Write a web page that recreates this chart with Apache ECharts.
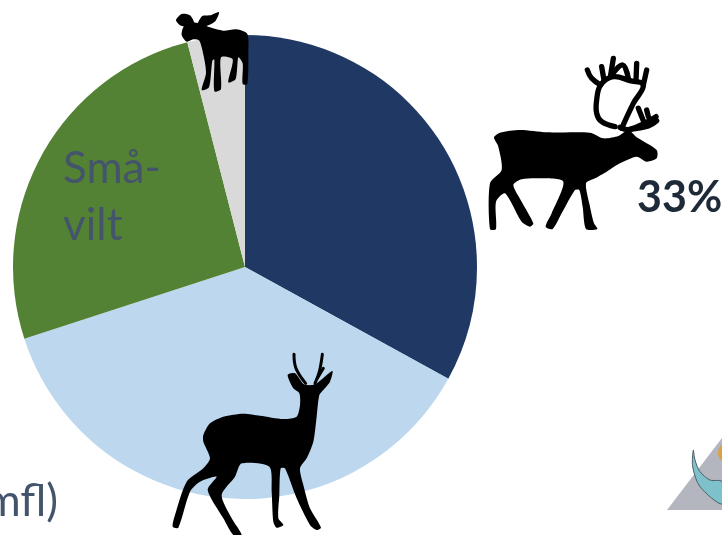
<!DOCTYPE html>
<html>
<head>
<meta charset="utf-8">
<style>html,body{margin:0;padding:0;background:#fff}#chart{width:722px;height:535px}</style>
<script src="https://cdn.jsdelivr.net/npm/echarts@6/dist/echarts.min.js"></script>
</head>
<body>
<div id="chart"></div>
<script>
// Share of the harvest by game type, clockwise from twelve o'clock
const categories = ['Ren', 'Rådjur', 'Småvilt', 'Älg'];
const shares = [33, 37, 26, 4];
const sliceColors = ['#1f3864', '#bdd7ee', '#548235', '#d9d9d9'];

// Animal silhouettes, each drawn on its own local grid and then scaled down
const reindeerBody = [[42,262],[60,248],[120,240],[200,247],[330,248],[370,265],[415,258],[445,240],[470,262],[530,300],[530,325],[500,335],[470,320],[420,340],[380,365],[345,385],[318,400],[330,470],[342,520],[352,537],[318,537],[308,470],[298,420],[285,420],[245,490],[218,537],[197,530],[215,490],[250,395],[180,385],[125,388],[100,405],[125,455],[160,520],[150,530],[125,515],[75,430],[48,455],[48,537],[30,537],[30,400],[65,360],[55,290]];
const reindeerAntlers = [
  [[405,230],[365,215],[350,190],[350,150],[362,105],[400,80],[450,92],[490,105],[460,160],[425,235]],
  [[322,60],[335,85],[362,105]],
  [[365,50],[372,90]],
  [[400,25],[392,75]],
  [[395,75],[428,45],[445,85]],
  [[470,40],[468,92]],
  [[500,60],[490,105]],
  [[420,232],[450,238],[528,200]],
  [[475,175],[490,212]],
  [[500,180],[505,200]],
  [[450,238],[505,228],[530,212]]
];
const deerBody = [[130,270],[150,235],[190,215],[250,206],[300,212],[370,222],[410,215],[420,180],[418,145],[400,130],[383,90],[405,85],[432,118],[465,118],[517,78],[510,110],[490,135],[478,150],[470,215],[460,290],[440,340],[420,370],[430,420],[450,490],[483,548],[470,555],[450,540],[410,460],[375,370],[362,370],[358,450],[355,520],[370,540],[350,548],[340,530],[335,440],[328,365],[245,355],[225,395],[185,450],[215,520],[245,570],[220,570],[190,520],[143,435],[170,395],[120,410],[90,440],[55,548],[38,545],[45,510],[80,410],[130,370],[150,340],[130,290]];
const deerAntlers = [
  [[437,115],[408,70],[402,28]],
  [[465,115],[478,80],[487,28]],
  [[472,100],[490,70]]
];
const mooseBody = [[50,105],[55,82],[75,68],[95,68],[110,72],[135,82],[175,92],[215,88],[247,102],[250,160],[247,252],[233,252],[233,190],[220,172],[212,237],[190,247],[203,178],[168,172],[168,267],[148,274],[148,178],[142,182],[132,262],[110,270],[123,220],[116,168],[103,122],[85,118],[65,125]];
const mooseAntlerLeft = [[33,60],[50,42],[75,46],[88,72],[60,80],[43,74]];
const mooseAntlerRight = [[98,72],[112,48],[135,46],[162,36],[152,62],[132,75],[106,82]];
const crescent = [[130,60],[128,110],[150,170],[216,222],[216,155],[180,150],[150,125],[135,90]];

const black = '#000';
const silhouette = (x, y, bodies, antlers, antlerWidth) => ({
  type: 'group', x, y, scaleX: 1 / 3, scaleY: 1 / 3, z: 10,
  children: [
    ...bodies.map(points => ({
      type: 'polygon', z: 10, shape: { points, smooth: 0.25 }, style: { fill: black }
    })),
    ...antlers.map(points => ({
      type: 'polyline', z: 10, shape: { points, smooth: 0.4 },
      style: { stroke: black, fill: 'none', lineWidth: antlerWidth, lineCap: 'round', lineJoin: 'round' }
    }))
  ]
});

const textBlue = '#44546a';
const label = (x, y, text, fontSize, extra) => ({
  type: 'text', x, y, z: 12,
  style: Object.assign({ text, fontFamily: 'Lato', fontSize, fill: textBlue }, extra)
});

const chart = echarts.init(document.getElementById('chart'), null, { renderer: 'canvas' });
chart.setOption({
  animation: false,
  backgroundColor: '#fff',
  series: [{
    type: 'pie',
    center: [245, 267],
    radius: [0, 232],
    startAngle: 90,
    clockwise: true,
    silent: true,
    label: { show: false },
    labelLine: { show: false },
    data: categories.map((name, i) => ({
      name, value: shares[i], itemStyle: { color: sliceColors[i] }
    }))
  }],
  graphic: [
    // Logo fragment at the lower right edge
    { type: 'polygon', z: 5, shape: { points: [[667,510],[722,510],[722,438]] }, style: { fill: '#b3b6bf' } },
    { type: 'circle', z: 6, shape: { cx: 729, cy: 453, r: 11 }, style: { fill: '#d9a24a' } },
    { type: 'group', x: 650, y: 430, scaleX: 1 / 3, scaleY: 1 / 3, z: 6, children: [
      { type: 'polygon', z: 6, shape: { points: crescent, smooth: 0.3 },
        style: { fill: '#7fc1cb', stroke: '#4f5f68', lineWidth: 3 } }
    ] },
    silhouette(480, 50, [reindeerBody], reindeerAntlers, 16),
    silhouette(160, 345, [deerBody], deerAntlers, 9),
    silhouette(165, 0, [mooseBody, mooseAntlerLeft, mooseAntlerRight], [], 4),
    label(637, 177, shares[0] + '%', 43, { fontWeight: 'bold', fill: '#1f2a38' }),
    label(63, 147, 'Små-', 44, {}),
    label(63, 204, 'vilt', 44, {}),
    label(58, 480, 'mfl)', 44, { textAlign: 'right' })
  ]
});
</script>
</body>
</html>
